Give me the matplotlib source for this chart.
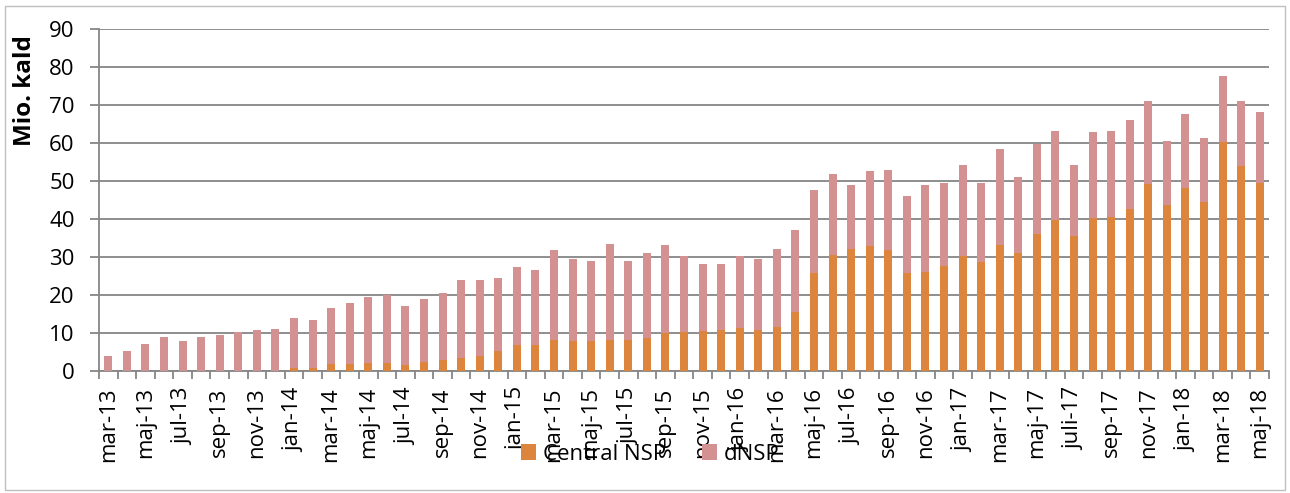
import matplotlib.pyplot as plt
import numpy as np
from matplotlib.patches import Rectangle

# Months mar-13 .. maj-18 (Danish labels, every other month shown)
months = ['jan', 'feb', 'mar', 'apr', 'maj', 'jun', 'jul', 'aug', 'sep', 'okt', 'nov', 'dec']
labels = []
for i in range(63):
    m = (2 + i) % 12
    y = 13 + (2 + i) // 12
    labels.append(f'{months[m]}-{y}')
labels[52] = 'juli-17'

central_nsp = [0, 0, 0, 0, 0, 0, 0, 0, 0, 0,
               0.8, 0.8, 1.7, 1.7, 1.9, 1.9, 1.6, 2.4, 2.9, 3.3,
               3.8, 5.3, 6.8, 6.7, 8.2, 7.9, 7.7, 8.2, 8.0, 8.7,
               9.9, 10.1, 10.5, 10.8, 11.3, 10.6, 11.6, 15.4, 25.6, 30.5,
               32.1, 32.9, 31.8, 25.6, 25.9, 27.7, 30.1, 28.5, 33.0, 31.1,
               36.1, 39.7, 35.6, 40.2, 40.4, 42.5, 49.2, 43.7, 48.2, 44.5,
               60.3, 53.9, 49.5]
dnsp = [3.8, 5.3, 7.1, 8.9, 7.9, 8.8, 9.5, 10.2, 10.7, 11.0,
        13.0, 12.5, 14.9, 16.1, 17.4, 18.0, 15.4, 16.5, 17.5, 20.6,
        20.2, 19.2, 20.4, 19.9, 23.7, 21.4, 21.2, 25.1, 20.9, 22.3,
        23.1, 20.1, 17.6, 17.4, 18.9, 18.7, 20.5, 21.6, 21.9, 21.2,
        16.7, 19.6, 21.0, 20.4, 23.0, 21.8, 24.0, 21.0, 25.4, 19.9,
        23.7, 23.5, 18.6, 22.6, 22.8, 23.6, 21.8, 16.9, 19.3, 16.7,
        17.3, 17.1, 18.6]

plt.rcParams['font.family'] = ['Open Sans', 'DejaVu Sans']
grey = '#868686'

fig = plt.figure(figsize=(12.9, 4.93), dpi=100)
ax = fig.add_axes([0.0767, 0.2481, 0.9070, 0.6931])

x = np.arange(len(labels))
ax.bar(x, central_nsp, width=0.43, color='#DD843D', label='Central NSP', zorder=3)
ax.bar(x, dnsp, width=0.43, bottom=central_nsp, color='#D49191', label='dNSP', zorder=3)

ax.set_xlim(-0.5, len(labels) - 0.5)
ax.set_ylim(0, 90)
ax.set_yticks(range(0, 91, 10))
ax.grid(axis='y', color=grey, linewidth=1.3, zorder=0)

ax.set_xticks(x[::2])
ax.set_xticklabels(labels[::2], rotation=90, fontsize=16)
ax.set_xticks(np.arange(-0.5, len(labels), 1), minor=True)
ax.tick_params(axis='x', which='major', length=0, pad=12)
ax.tick_params(axis='x', which='minor', length=6, color=grey, width=1.3)
ax.tick_params(axis='y', length=6.5, color=grey, width=1.3, labelsize=16, pad=11)

for s in ['top', 'right']:
    ax.spines[s].set_visible(False)
for s in ['left', 'bottom']:
    ax.spines[s].set_color(grey)
    ax.spines[s].set_linewidth(1.3)

# y-axis title sits near the top, as in the original
fig.text(25 / 1290, 1 - 91 / 493, 'Mio. kald', rotation=90, ha='center', va='center',
         fontsize=17.5, fontweight='bold')

fig.legend(loc='center', bbox_to_anchor=(0.504, 0.078), ncol=2, frameon=False,
           fontsize=16, handlelength=0.7, handleheight=0.7, handletextpad=0.3,
           columnspacing=1.6)

fig.patches.append(Rectangle((0.004, 0.006), 0.992, 0.982, transform=fig.transFigure,
                             fill=False, edgecolor='#BFBFBF', linewidth=1))

fig.savefig('out.png', dpi=100)
